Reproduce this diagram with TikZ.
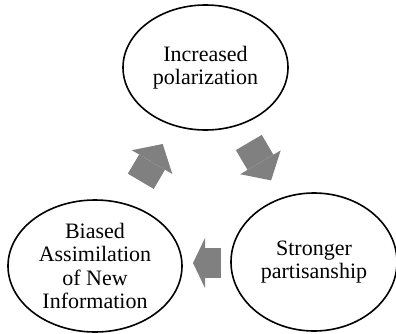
\documentclass[tikz,border=0pt]{standalone}
\usepackage{fontspec}
\setmainfont{Liberation Serif}
\usetikzlibrary{shapes.geometric,arrows.meta}
\begin{document}
\begin{tikzpicture}[x=1pt,y=1pt,
    stage/.style={ellipse, draw, line width=1.6pt, inner sep=0pt, align=center,
      font=\fontsize{22}{23.5}\selectfont},
    feedback/.style={draw=gray, line width=30pt,
      -{Triangle[length=21pt,width=47pt,line width=0pt]}}]
    \useasboundingbox (0,0) rectangle (396,333);

    \node [stage, minimum width=165pt, minimum height=125pt] (pol) at (205.5,265.5) {Increased\\polarization};
    \node [stage, minimum width=166pt, minimum height=138pt] (part) at (314,71) {Stronger\\partisanship};
    \node [stage, minimum width=174pt, minimum height=132pt] (bias) at (95,67) {Biased\\Assimilation\\of New\\Information};

    \coordinate (a1) at (140.8,151.7); % Left
    \coordinate (b1) at (162.7,189);
    \coordinate (a2) at (248.8,190.5); % Right
    \coordinate (b2) at (271.1,152.6);
    \coordinate (a3) at (221,70); % Bottom
    \coordinate (b3) at (193,70);

    \draw [feedback] (a1)--(b1);
    \draw [feedback] (a2)--(b2);
    \draw [feedback, -{Triangle[length=12pt,width=50pt,line width=0pt]}] (a3)--(b3);
\end{tikzpicture}
\end{document}
